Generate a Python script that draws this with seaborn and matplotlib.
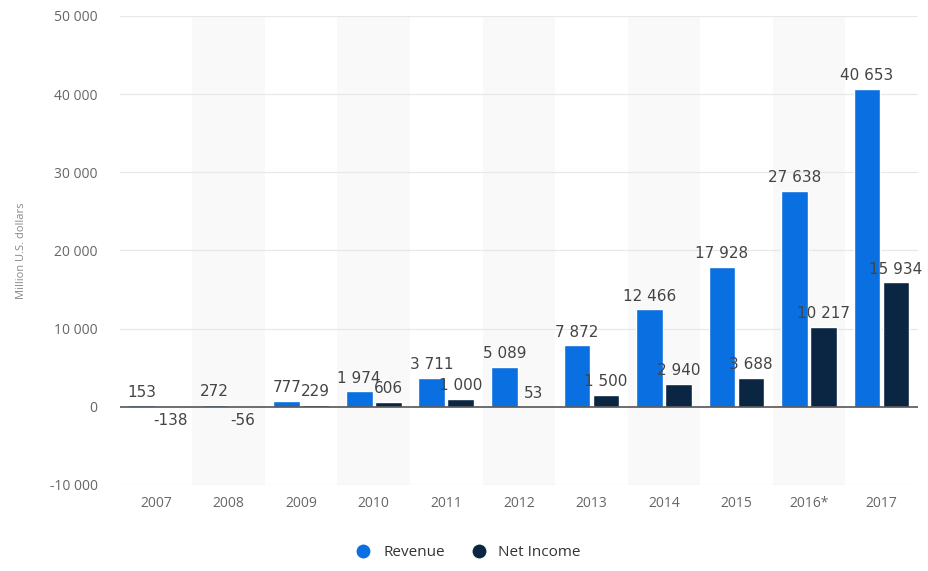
import matplotlib
matplotlib.use("Agg")
import matplotlib.pyplot as plt
import seaborn as sns
import pandas as pd
from matplotlib.lines import Line2D

years = ["2007", "2008", "2009", "2010", "2011", "2012", "2013", "2014", "2015", "2016*", "2017"]
revenue = [153, 272, 777, 1974, 3711, 5089, 7872, 12466, 17928, 27638, 40653]
net_income = [-138, -56, 229, 606, 1000, 53, 1500, 2940, 3688, 10217, 15934]
series_names = ["Revenue", "Net Income"]
colors = ["#0a6fe0", "#0b2642"]
yticks = [-10000, 0, 10000, 20000, 30000, 40000, 50000]

df = pd.DataFrame({
    "year": years * 2,
    "value": revenue + net_income,
    "series": [series_names[0]] * len(years) + [series_names[1]] * len(years),
})

sns.set_theme(style="white")
plt.rcParams['font.family'] = ['Open Sans', 'DejaVu Sans']

fig = plt.figure(figsize=(9.29, 5.71), dpi=100)
ax = fig.add_axes([0.129, 0.151, 0.859, 0.821])

# alternating bands
for i in range(len(years)):
    if i % 2 == 1:
        ax.axvspan(i - 0.5, i + 0.5, color="#f9f9f9", zorder=0, lw=0)

for y in yticks:
    if y != 0:
        ax.axhline(y, color="#e8e8e8", lw=0.9, zorder=0.5)

sns.barplot(data=df, x="year", y="value", hue="series", palette=colors,
            width=0.8, gap=0.08, ax=ax, legend=False, zorder=2, saturation=1)

ax.axhline(0, color="#555555", lw=1.2, zorder=3)

def fmt(v):
    s = f"{abs(v):,}".replace(",", " ")
    return ("-" if v < 0 else "") + s

for cont, vals in zip(ax.containers, [revenue, net_income]):
    ax.bar_label(cont, labels=[fmt(v) for v in vals], padding=4,
                 fontsize=11, color="#444444", family="DejaVu Sans", zorder=4)

ax.set_xlim(-0.5, len(years) - 0.5)
ax.set_ylim(-10000, 50000)
ax.set_yticks(yticks)
ax.set_yticklabels([fmt(v) for v in yticks])
ax.tick_params(axis="both", labelsize=10, colors="#666666", length=0)
ax.tick_params(axis="y", pad=16)
ax.tick_params(axis="x", pad=8)
ax.set_xlabel("")
ax.set_ylabel("Million U.S. dollars", fontsize=8, color="#888888", labelpad=16)
for s in ax.spines.values():
    s.set_visible(False)

handles = [Line2D([0], [0], marker="o", color="w", markerfacecolor=c, markersize=11, lw=0)
           for c in colors]
fig.legend(handles, series_names, loc="lower center", ncol=2, frameon=False,
           bbox_to_anchor=(0.5, -0.005), fontsize=11, handletextpad=0.3,
           columnspacing=1.2, labelcolor="#333333")

fig.savefig("out.png", dpi=100)
